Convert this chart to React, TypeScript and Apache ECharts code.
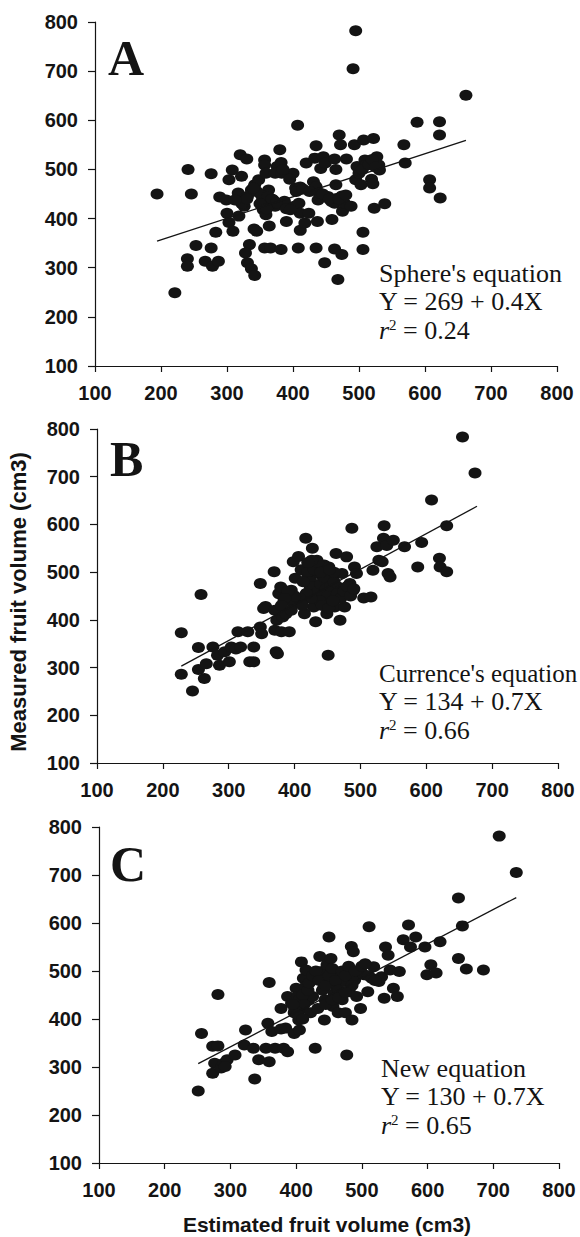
import React, { useEffect, useRef } from "react";
import * as echarts from "echarts";

const AXIS_MIN = 100;
const AXIS_MAX = 800;
const AXIS_STEP = 100;

const panelLetters = ["A", "B", "C"];
const eqNames = ["Sphere's equation", "Currence's equation", "New equation"];
const eqFormulas = ["Y = 269 + 0.4X", "Y = 134 + 0.7X", "Y = 130 + 0.7X"];
const eqR2 = ["0.24", "0.66", "0.65"];
const yTitle = "Measured fruit volume (cm3)";
const xTitle = "Estimated fruit volume (cm3)";

const pointsA: [number, number][] = [
  [194, 450], [221, 249], [241, 500], [246, 450], [253, 345], [240, 318], [240, 303],
  [276, 491], [276, 340], [283, 372], [267, 313], [278, 303], [287, 313], [289, 444],
  [299, 438], [308, 499], [303, 479], [300, 411], [303, 392], [309, 374], [320, 530],
  [322, 486], [330, 521], [317, 452], [326, 425], [322, 431], [331, 445], [337, 458],
  [342, 469], [334, 347], [328, 330], [331, 310], [337, 298], [342, 284], [341, 379],
  [345, 374], [348, 479], [354, 438], [355, 418], [357, 519], [357, 509], [359, 492],
  [363, 458], [359, 408], [364, 385], [357, 340], [366, 340], [370, 438], [373, 425],
  [367, 431], [376, 506], [380, 540], [382, 514], [373, 492], [383, 492], [382, 337],
  [387, 435], [390, 394], [400, 492], [404, 462], [402, 425], [407, 590], [408, 340],
  [409, 431], [411, 411], [411, 376], [411, 464], [418, 391], [420, 513], [424, 411],
  [435, 548], [433, 523], [431, 475], [435, 465], [437, 394], [435, 340], [438, 438],
  [440, 452], [442, 502], [446, 526], [449, 513], [448, 310], [453, 445], [458, 435],
  [459, 398], [463, 521], [465, 500], [463, 338], [465, 469], [463, 431], [466, 441],
  [468, 276], [470, 570], [472, 550], [474, 446], [474, 327], [475, 415], [478, 431],
  [481, 521], [488, 425], [491, 705], [495, 782], [493, 550], [495, 479], [497, 506],
  [500, 492], [503, 469], [506, 372], [506, 337], [507, 560], [509, 519], [511, 509],
  [519, 480], [521, 471], [522, 563], [523, 421], [527, 526], [530, 509], [531, 499],
  [539, 430], [568, 550], [570, 513], [588, 596], [607, 479], [607, 462], [622, 597],
  [622, 570], [623, 442], [662, 651],
  [345, 455], [352, 448], [362, 445], [368, 440], [375, 432], [390, 420], [396, 418],
  [405, 455], [415, 460], [425, 455], [445, 450], [455, 440], [470, 440], [480, 448],
  [340, 462], [330, 440], [312, 438], [318, 405], [505, 500], [515, 510], [520, 520],
  [525, 505], [385, 500], [395, 480], [350, 430], [360, 420],
];

const pointsB: [number, number][] = [
  [228, 373], [228, 286], [245, 251], [254, 342], [258, 453], [254, 296], [263, 277],
  [266, 308], [276, 343], [283, 326], [286, 305], [294, 333], [301, 312], [304, 343],
  [311, 339], [314, 375], [318, 343], [329, 375], [338, 343], [332, 312], [338, 312],
  [348, 476], [348, 385], [350, 371], [353, 424], [356, 428], [369, 501], [372, 333],
  [374, 329], [370, 420], [373, 399], [370, 378], [376, 455], [379, 469], [382, 406],
  [384, 441], [387, 413], [380, 375], [392, 375], [395, 462], [398, 434], [398, 522],
  [401, 487], [406, 533], [410, 505], [412, 441], [415, 413], [417, 571], [418, 455],
  [420, 490], [424, 469], [427, 550], [428, 511], [429, 427], [432, 396], [434, 525],
  [435, 497], [438, 448], [441, 469], [444, 483], [446, 434], [449, 413], [451, 326],
  [452, 511], [455, 455], [458, 490], [461, 427], [463, 539], [466, 469], [469, 399],
  [470, 448], [472, 497], [476, 427], [479, 532], [484, 476], [487, 592], [489, 462],
  [491, 511], [494, 497], [505, 446], [516, 448], [519, 504], [525, 553], [528, 525],
  [533, 522], [536, 597], [535, 571], [540, 556], [542, 497], [545, 490], [550, 567],
  [567, 553], [587, 511], [593, 562], [608, 651], [620, 529], [621, 511], [631, 597],
  [631, 501], [655, 783], [674, 708],
  [420, 500], [425, 480], [430, 470], [432, 455], [436, 460], [440, 475], [445, 490],
  [448, 465], [450, 450], [455, 470], [460, 480], [438, 440], [442, 430], [425, 445],
  [418, 455], [430, 505], [445, 515], [460, 500], [465, 455], [470, 445], [413, 480],
  [408, 445], [400, 450], [390, 460], [385, 445], [380, 430], [395, 420], [452, 425],
  [458, 440], [475, 460], [480, 470], [485, 450], [490, 465], [435, 520], [426, 525],
  [420, 520], [412, 430], [440, 500], [453, 505],
];

const pointsC: [number, number][] = [
  [251, 250], [256, 370], [273, 343], [276, 308], [273, 287], [281, 344], [281, 451],
  [286, 298], [290, 308], [295, 315], [292, 301], [307, 325], [323, 377], [321, 346],
  [335, 339], [337, 275], [343, 315], [354, 339], [359, 476], [359, 311], [357, 391],
  [363, 374], [368, 339], [377, 422], [377, 379], [381, 339], [384, 381], [387, 332],
  [387, 447], [393, 433], [397, 413], [397, 370], [400, 464], [402, 447], [405, 377],
  [404, 398], [408, 421], [408, 519], [411, 485], [414, 467], [415, 502], [419, 440],
  [422, 413], [425, 447], [429, 339], [433, 422], [436, 530], [439, 499], [442, 464],
  [443, 398], [444, 440], [447, 513], [450, 571], [452, 481], [453, 526], [456, 426],
  [458, 453], [460, 499], [462, 467], [464, 413], [467, 492], [470, 440], [473, 478],
  [475, 413], [477, 325], [478, 499], [481, 457], [484, 551], [485, 398], [487, 540],
  [489, 481], [492, 447], [495, 499], [498, 422], [503, 492], [509, 457], [511, 592],
  [515, 485], [518, 509], [526, 478], [530, 488], [534, 443], [536, 550], [540, 533],
  [543, 502], [548, 464], [554, 447], [557, 499], [563, 565], [571, 596], [574, 550],
  [582, 571], [596, 550], [599, 492], [605, 513], [613, 496], [619, 561], [647, 652],
  [647, 526], [653, 594], [659, 504], [685, 502], [709, 781], [735, 705],
  [405, 440], [410, 450], [412, 430], [418, 460], [420, 475], [425, 490], [430, 500],
  [435, 480], [440, 460], [445, 470], [450, 490], [455, 505], [460, 480], [465, 460],
  [470, 500], [475, 490], [480, 510], [485, 470], [490, 500], [398, 420], [395, 430],
  [402, 410], [410, 400], [445, 430], [455, 440], [465, 445], [475, 455], [500, 510],
  [505, 515], [510, 490], [520, 480],
];

const fitA: [number, number][] = [[194, 354], [662, 559]];
const fitB: [number, number][] = [[228, 303], [677, 638]];
const fitC: [number, number][] = [[251, 307], [735, 653]];

const INK = "#141414";

export default function App() {
  const ref = useRef<HTMLDivElement>(null);

  useEffect(() => {
    if (!ref.current) return;
    const chart = echarts.init(ref.current, undefined, { renderer: "svg" });

    const grids = [
      { left: 95, top: 22, width: 462, height: 344 },
      { left: 97, top: 429, width: 461, height: 334 },
      { left: 99, top: 827, width: 460, height: 336 },
    ];

    const axisCommon = {
      type: "value" as const,
      min: AXIS_MIN,
      max: AXIS_MAX,
      interval: AXIS_STEP,
      splitLine: { show: false },
      axisLine: { show: true, onZero: false, lineStyle: { color: INK, width: 1.2 } },
      axisLabel: {
        color: INK,
        fontFamily: "Arial, 'Liberation Sans', sans-serif",
        fontSize: 20,
        fontWeight: "bold" as const,
        margin: 17,
      },
    };

    const xAxis = grids.map((_, i) => ({
      ...axisCommon,
      gridIndex: i,
      axisTick: { show: true, inside: false, length: 6, lineStyle: { color: INK, width: 1.2 } },
    }));
    const yAxis = grids.map((_, i) => ({
      ...axisCommon,
      gridIndex: i,
      axisTick: { show: true, inside: false, length: 7, lineStyle: { color: INK, width: 1.2 } },
    }));

    const pts = [pointsA, pointsB, pointsC];
    const fits = [fitA, fitB, fitC];

    const series: any[] = [];
    pts.forEach((p, i) => {
      series.push({
        type: "scatter",
        xAxisIndex: i,
        yAxisIndex: i,
        data: p,
        symbol: "circle",
        symbolSize: [13, 11],
        itemStyle: { color: INK, opacity: 1 },
        silent: true,
      });
      series.push({
        type: "line",
        xAxisIndex: i,
        yAxisIndex: i,
        data: fits[i],
        symbol: "none",
        lineStyle: { color: INK, width: 1.3 },
        silent: true,
      });
    });

    const letterPos = [
      { x: 108, y: 58 },
      { x: 110, y: 459 },
      { x: 110, y: 864 },
    ];
    const annPos = [
      { x: 379, y: 273 },
      { x: 379, y: 673 },
      { x: 381, y: 1068 },
    ];
    const nameSize = [26, 25, 26];
    const lineGap = 28.5;
    const serif = "'Times New Roman', 'Liberation Serif', serif";

    const graphic: any[] = [];
    panelLetters.forEach((L, i) => {
      graphic.push({
        type: "text",
        x: letterPos[i].x,
        y: letterPos[i].y,
        style: {
          text: L,
          font: `bold 50px ${serif}`,
          fill: INK,
          verticalAlign: "middle",
          align: "left",
        },
      });
      const a = annPos[i];
      graphic.push({
        type: "text",
        x: a.x,
        y: a.y,
        style: { text: eqNames[i], font: `${nameSize[i]}px ${serif}`, fill: INK, verticalAlign: "middle" },
      });
      graphic.push({
        type: "text",
        x: a.x,
        y: a.y + lineGap,
        style: { text: eqFormulas[i], font: `26px ${serif}`, fill: INK, verticalAlign: "middle" },
      });
      graphic.push({
        type: "text",
        x: a.x,
        y: a.y + lineGap * 2,
        style: {
          text: `{r|r}{s|2}{n| = ${eqR2[i]}}`,
          fill: INK,
          verticalAlign: "middle",
          rich: {
            r: { fontFamily: serif, fontSize: 26, fontStyle: "italic", fill: INK },
            s: { fontFamily: serif, fontSize: 15, fill: INK, verticalAlign: "top", lineHeight: 26 },
            n: { fontFamily: serif, fontSize: 26, fill: INK },
          },
        },
      });
    });

    graphic.push({
      type: "text",
      x: 18,
      y: 602,
      rotation: Math.PI / 2,
      style: {
        text: yTitle,
        font: "bold 22px Arial, 'Liberation Sans', sans-serif",
        fill: INK,
        align: "center",
        verticalAlign: "middle",
      },
    });
    graphic.push({
      type: "text",
      x: 327,
      y: 1224,
      style: {
        text: xTitle,
        font: "bold 21px Arial, 'Liberation Sans', sans-serif",
        fill: INK,
        align: "center",
        verticalAlign: "middle",
      },
    });

    chart.setOption({
      animation: false,
      backgroundColor: "#ffffff",
      grid: grids,
      xAxis,
      yAxis,
      series,
      graphic,
    });

    return () => chart.dispose();
  }, []);

  return (
    <div
      ref={ref}
      style={{ position: "absolute", left: 0, top: 0, width: 580, height: 1237 }}
    />
  );
}
